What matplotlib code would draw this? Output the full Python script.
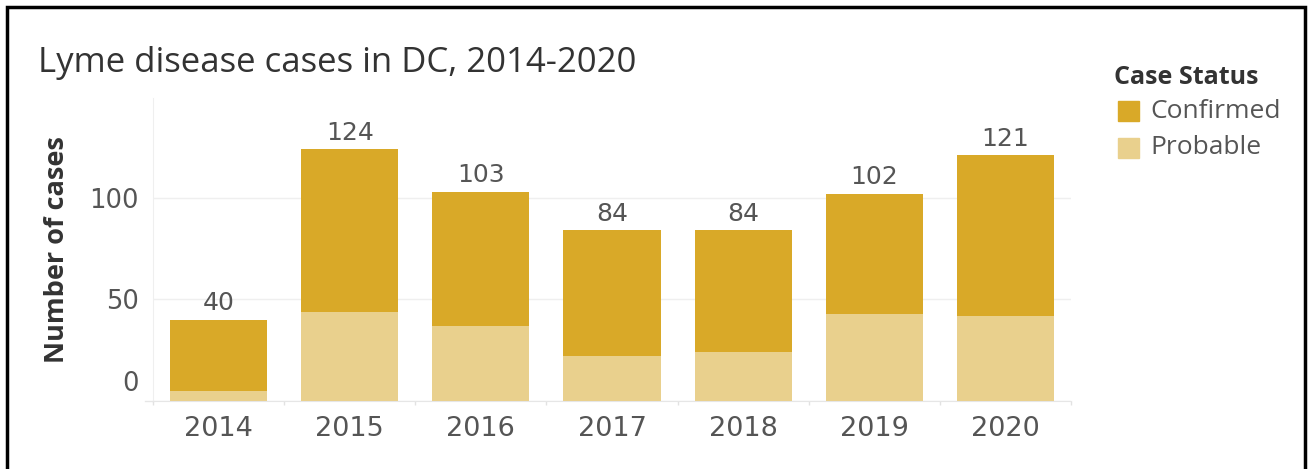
import matplotlib.pyplot as plt
from matplotlib.patches import Rectangle
from matplotlib.lines import Line2D
import matplotlib.transforms as mtransforms

# Data
years = ['2014', '2015', '2016', '2017', '2018', '2019', '2020']
probable = [5, 44, 37, 22, 24, 43, 42]
confirmed = [35, 80, 66, 62, 60, 59, 79]
totals = [p + c for p, c in zip(probable, confirmed)]
yticks = [0, 50, 100]

col_conf = '#D9A928'
col_prob = '#E9D08D'
txt_dark = '#333333'
txt_grey = '#555555'
grid_col = '#EFEFEF'
num_font = ['DejaVu Sans']

plt.rcParams['font.family'] = ['Open Sans', 'DejaVu Sans']

FIG = plt.figure(figsize=(13.12, 4.69), dpi=100)
W, H = 1312, 469
AX = FIG.add_axes([153 / W, 1 - 401 / H, (1071 - 153) / W, (401 - 98) / H])

x = list(range(len(years)))
AX.bar(x, probable, width=0.74, color=col_prob, zorder=3)
AX.bar(x, confirmed, width=0.74, bottom=probable, color=col_conf, zorder=3)

# total labels above each bar
for xi, t in zip(x, totals):
    AX.annotate(str(t), (xi, t), xytext=(0, 3), textcoords='offset points',
                ha='center', va='bottom', fontsize=18, color=txt_grey,
                family=num_font)

AX.set_xlim(-0.5, len(years) - 0.5)
AX.set_ylim(0, 149)

AX.set_xticks(x)
AX.set_xticklabels(years, fontsize=19.5, color=txt_grey, family=num_font)
AX.set_xticks([i - 0.5 for i in range(len(years) + 1)], minor=True)
AX.tick_params(axis='x', which='major', length=0, pad=11)
AX.tick_params(axis='x', which='minor', length=3, color='#E2E2E2', width=1)

AX.set_yticks(yticks)
AX.set_yticklabels([str(v) for v in yticks], fontsize=18.5, color=txt_grey,
                   family=num_font)
AX.tick_params(axis='y', length=0, pad=10)
# Tableau pushes the zero label up off the baseline
lbl0 = AX.get_yticklabels()[0]
lbl0.set_va('bottom')
lbl0.set_transform(lbl0.get_transform() +
                   mtransforms.ScaledTranslation(0, 3 / 72, FIG.dpi_scale_trans))

AX.set_ylabel('Number of cases', fontsize=19.5, fontweight='bold', color=txt_dark, labelpad=14)

for s in ['top', 'right']:
    AX.spines[s].set_visible(False)
AX.spines['left'].set_color(grid_col)
AX.spines['bottom'].set_color('#E6E6E6')
AX.grid(axis='y', color=grid_col, lw=1, zorder=0)
AX.set_axisbelow(True)
AX.add_line(Line2D([-0.009, 0], [0, 0], transform=AX.transAxes, color='#E6E6E6',
                   lw=1, clip_on=False))

# title
FIG.text(38 / W, 1 - 63 / H, 'Lyme disease cases in DC, 2014-2020', fontsize=25,
         color=txt_dark, va='center', ha='left')

# legend by hand, Tableau style
FIG.text(1114 / W, 1 - 78 / H, 'Case Status', fontsize=18, fontweight='bold',
         color=txt_dark, va='center', ha='left')
for name, col, yc in [('Confirmed', col_conf, 111), ('Probable', col_prob, 148)]:
    FIG.patches.append(Rectangle((1118 / W, 1 - (yc + 10) / H), 21 / W, 20 / H,
                                 transform=FIG.transFigure, color=col))
    FIG.text(1150 / W, 1 - yc / H, name, fontsize=19, color=txt_grey,
             va='center', ha='left')

# outer frame
FIG.patches.append(Rectangle((7 / W, -0.05), (1305 - 7) / W, 1.05 - 7 / H,
                             transform=FIG.transFigure, fill=False,
                             edgecolor='black', lw=2.5))

plt.savefig('out.png', dpi=100)
